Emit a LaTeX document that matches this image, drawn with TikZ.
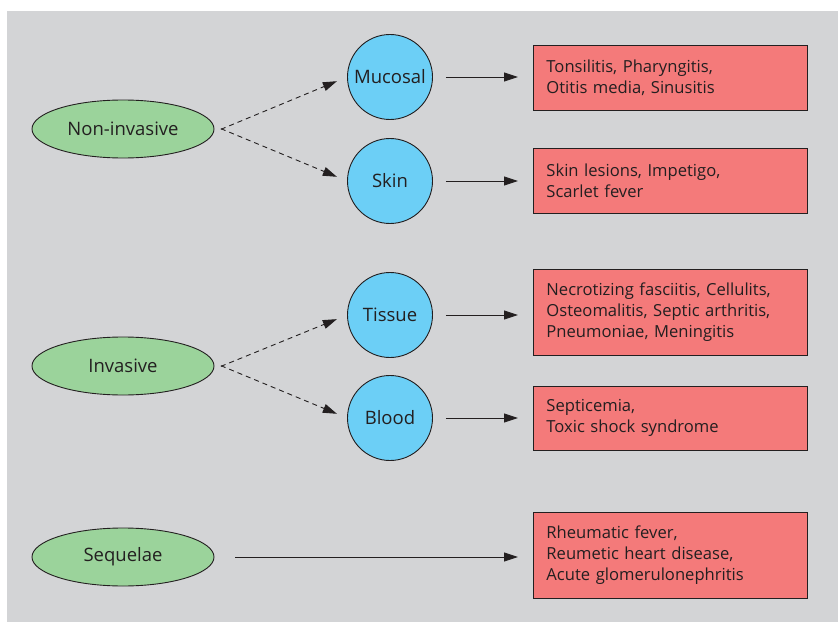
\documentclass[tikz,border=0pt]{standalone}
\usepackage{fontspec}
\setmainfont{Open Sans}
\usetikzlibrary{shapes.geometric,arrows.meta}

\definecolor{bggray}{RGB}{211,212,214}
\definecolor{formgreen}{RGB}{155,211,155}
\definecolor{siteblue}{RGB}{108,207,246}
\definecolor{diseasered}{RGB}{244,122,122}
\definecolor{inkgray}{RGB}{35,31,32}

\tikzset{
  form/.style={ellipse, draw=inkgray, line width=0.9pt, fill=formgreen,
    minimum width=182pt, minimum height=58pt, inner sep=0pt, text=inkgray},
  site/.style={circle, draw=inkgray, line width=0.9pt, fill=siteblue,
    minimum size=85pt, inner sep=0pt, text=inkgray},
  disease/.style={rectangle, draw=inkgray, line width=0.9pt, fill=diseasered,
    anchor=west, text width=248pt, inner xsep=13pt, inner ysep=0pt,
    align=left, text=inkgray, font=\fontsize{16.6}{21}\selectfont},
  tip/.style={-{Triangle[length=14pt,width=9pt]}, line width=0.9pt, draw=inkgray},
  route/.style={tip, dashed, dash pattern=on 5pt off 4pt, shorten <=7pt, shorten >=11pt},
  leads/.style={tip, shorten <=13pt, shorten >=15pt}
}

\begin{document}
\begin{tikzpicture}[x=1pt, y=-1pt, font=\fontsize{18.5}{21}\selectfont]
  \useasboundingbox (0,0) rectangle (838,623);
  \fill[bggray] (7,11) rectangle (838,622);

  % Forms
  \node[form] (noninv) at (123,129) {Non-invasive};
  \node[form] (inv) at (123,366) {Invasive};
  \node[form] (seq) at (123,557) {Sequelae};

  % Sites
  \node[site] (mucosal) at (390,77) {Mucosal};
  \node[site] (skin) at (390,181) {Skin};
  \node[site] (tissue) at (390,315) {Tissue};
  \node[site] (blood) at (390,418) {Blood};

  % Diseases
  \node[disease, minimum height=65pt] (dmucosal) at (533,77.5)
    {Tonsilitis, Pharyngitis,\\Otitis media, Sinusitis};
  \node[disease, minimum height=65pt] (dskin) at (533,180.5)
    {Skin lesions, Impetigo,\\Scarlet fever};
  \node[disease, minimum height=86pt] (dtissue) at (533,312)
    {Necrotizing fasciitis, Cellulits,\\Osteomalitis, Septic arthritis,\\Pneumoniae, Meningitis};
  \node[disease, minimum height=64pt] (dblood) at (533,418)
    {Septicemia,\\Toxic shock syndrome};
  \node[disease, minimum height=86pt] (dseq) at (533,555)
    {Rheumatic fever,\\Reumetic heart disease,\\Acute glomerulonephritis};

  % Dashed routes
  \draw[route] ([yshift=-3pt]noninv.east) -- (mucosal.west);
  \draw[route] ([yshift=3pt]noninv.east) -- (skin.west);
  \draw[route] ([yshift=-3pt]inv.east) -- (tissue.west);
  \draw[route] ([yshift=3pt]inv.east) -- (blood.west);

  % Arrows to diseases
  \draw[leads] (mucosal.east) -- (mucosal.east -| dmucosal.west);
  \draw[leads] (skin.east) -- (skin.east -| dskin.west);
  \draw[leads] (tissue.east) -- (tissue.east -| dtissue.west);
  \draw[leads] (blood.east) -- (blood.east -| dblood.west);
  \draw[tip, shorten <=21pt, shorten >=15pt] (seq.east) -- (seq.east -| dseq.west);
\end{tikzpicture}
\end{document}
